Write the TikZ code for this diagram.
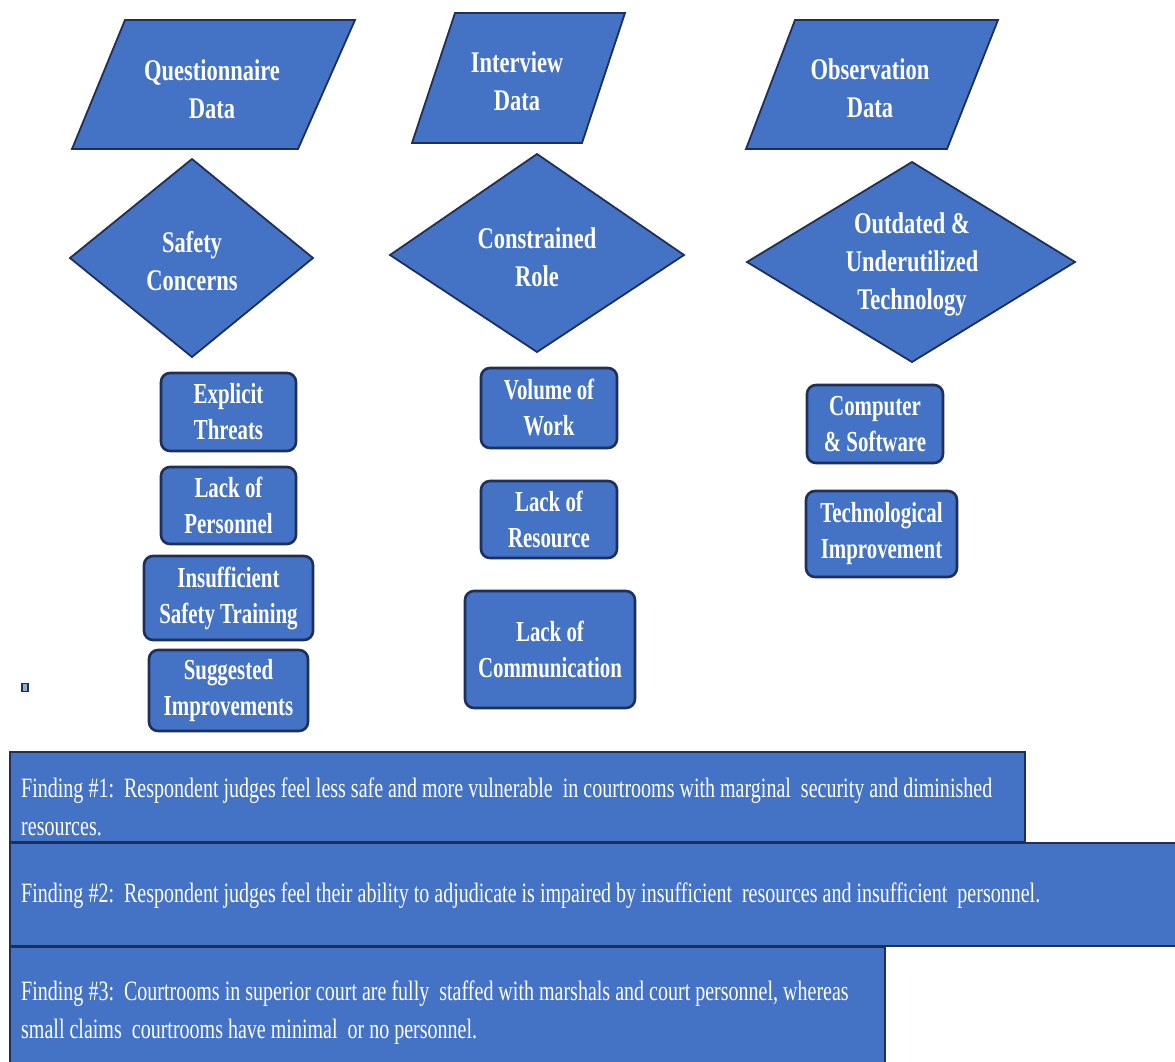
\documentclass[tikz,border=0pt]{standalone}
\usepackage{fontspec}
\setmainfont{Liberation Serif}
\newfontfamily\headfont[FakeStretch=0.72]{Liberation Serif}
\newfontfamily\titlefont[FakeStretch=0.75]{Liberation Serif}
\newfontfamily\findfont[FakeStretch=0.715]{Liberation Serif}
\definecolor{fblue}{HTML}{4472C4}
\definecolor{navy}{HTML}{1F2F5C}
\tikzset{
  shp/.style={fill=fblue, draw=navy, line width=1.8pt, line join=miter},
  lbl/.style={text=white, font=\titlefont\bfseries\fontsize{30}{38}\selectfont, align=center, inner sep=0pt},
  rbox/.style={fill=fblue, draw=navy, line width=2.6pt, rounded corners=9pt, text=white,
    font=\headfont\bfseries\fontsize{29}{36}\selectfont, align=center, inner sep=0pt},
  findbox/.style={fill=fblue, draw=navy, line width=1.6pt},
  ftext/.style={text=white, font=\findfont\fontsize{28}{38}\selectfont, anchor=base west, inner sep=0pt}
}
\begin{document}
\begin{tikzpicture}[x=1pt,y=-1pt]
\useasboundingbox (0,0) rectangle (1175,1061);
% parallelograms
\path[shp] (125,20) -- (355,20) -- (298,149) -- (72,149) -- cycle;
\path[shp] (455,13) -- (625,13) -- (582,143) -- (412,143) -- cycle;
\path[shp] (795,20) -- (998,20) -- (947,149) -- (746,149) -- cycle;
\node[lbl] (qd) at (212,89) {Questionnaire\\Data};
\node[lbl] (id) at (517,81) {Interview\\Data};
\node[lbl] (od) at (870,88) {Observation\\Data};
% diamonds
\path[shp] (192,159) -- (313,258) -- (192,357) -- (70,258) -- cycle;
\path[shp] (537,154) -- (684,255) -- (537,352) -- (390,255) -- cycle;
\path[shp] (912,162) -- (1075,262) -- (912,362) -- (747,262) -- cycle;
\node[lbl] (sc) at (192,261) {Safety\\Concerns};
\node[lbl] (cr) at (537,257) {Constrained\\Role};
\node[lbl] (ou) at (912,264) {Outdated \&\\Underutilized\\Technology};
% column 1 boxes
\node[rbox, minimum width=135pt, minimum height=78pt] (et) at (228.5,412) {Explicit\\Threats};
\node[rbox, minimum width=135pt, minimum height=77pt] (lp) at (228.5,505.5) {Lack of\\Personnel};
\node[rbox, minimum width=169pt, minimum height=84pt] (ist) at (228.5,598) {Insufficient\\Safety Training};
\node[rbox, minimum width=159pt, minimum height=81pt] (si) at (228.5,690.5) {Suggested\\Improvements};
% column 2 boxes
\node[rbox, minimum width=136pt, minimum height=80pt] (vw) at (549,408) {Volume of\\Work};
\node[rbox, minimum width=136pt, minimum height=77pt] (lr) at (549,519.5) {Lack of\\Resource};
\node[rbox, minimum width=170pt, minimum height=117pt] (lc) at (550,649.5) {Lack of\\Communication};
% column 3 boxes
\node[rbox, minimum width=136pt, minimum height=78pt] (cs) at (875,424) {Computer\\\& Software};
\node[rbox, minimum width=151pt, minimum height=86pt] (ti) at (881.5,534) {Technological\\Improvement};
% small square
\node[draw=navy, fill=fblue!60, line width=1.5pt, minimum width=6pt, minimum height=8pt, inner sep=0pt] (sq) at (25,687.5) {};
% finding boxes
\path[findbox] (10,752) rectangle (1025,842);
\path[findbox] (10,843) rectangle (1180,946);
\path[findbox] (10,947) rectangle (885,1066);
\node[ftext] (f1a) at (21,797) {Finding \#1:\ \ Respondent judges feel less safe and more vulnerable\ \ in courtrooms with marginal\ \ security and diminished};
\node[ftext] (f1b) at (21,835) {resources.};
\node[ftext] (f2) at (21,902) {Finding \#2:\ \ Respondent judges feel their ability to adjudicate is impaired by insufficient\ \ resources and insufficient\ \ personnel.};
\node[ftext] (f3a) at (21,1000) {Finding \#3:\ \ Courtrooms in superior court are fully\ \ staffed with marshals and court personnel, whereas};
\node[ftext] (f3b) at (21,1038) {small claims\ \ courtrooms have minimal\ \ or no personnel.};
\end{tikzpicture}
\end{document}
